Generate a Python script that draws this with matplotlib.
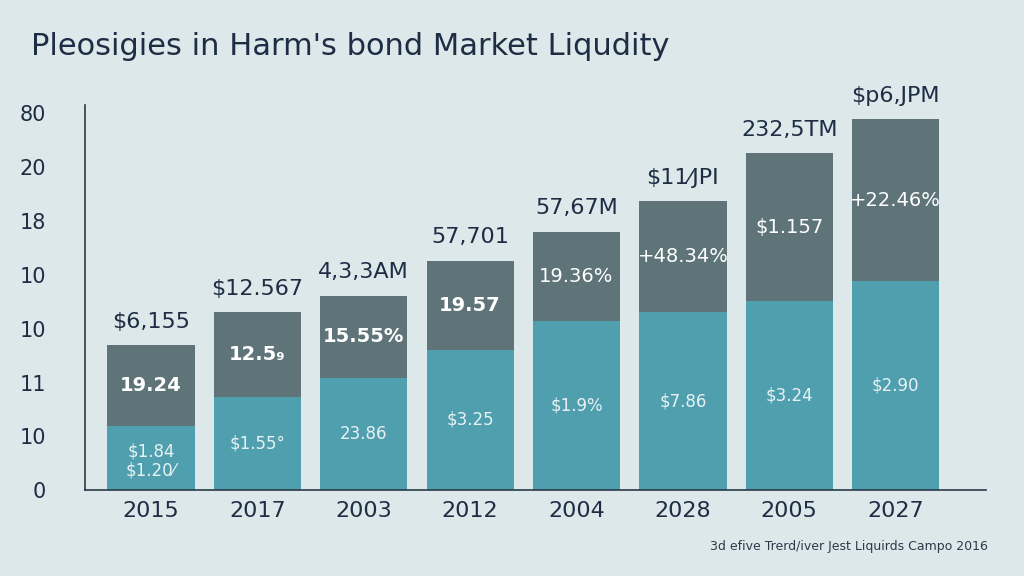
import matplotlib
matplotlib.use("Agg")
import matplotlib.pyplot as plt

years = ["2015", "2017", "2003", "2012", "2004", "2028", "2005", "2027"]
lower = [1.20, 1.74, 2.09, 2.61, 3.15, 3.31, 3.52, 3.89]
total = [2.69, 3.31, 3.61, 4.26, 4.80, 5.37, 6.26, 6.89]
upper = [t - l for t, l in zip(total, lower)]
top_labels = ["$6,155", "$12.567", "4,3,3AM", "57,701", "57,67M", "$11⁄JPI", "232,5TM", "$p6,JPM"]
upper_labels = ["19.24", "12.5₉", "15.55%", "19.57", "19.36%", "+48.34%", "$1.157", "+22.46%"]
lower_labels = ["$1.84\n$1.20⁄", "$1.55°", "23.86", "$3.25", "$1.9%", "$7.86", "$3.24", "$2.90"]
ytick_labels = ["0", "10", "11", "10", "10", "18", "20", "80"]

bg = "#dce8ea"
fig = plt.figure(figsize=(10.24, 5.76), dpi=100, facecolor=bg)
ax = fig.add_axes([0.083, 0.149, 0.88, 0.668])
ax.set_facecolor(bg)
x = list(range(len(years)))
ax.bar(x, lower, width=0.82, color="#4f9fae")
ax.bar(x, upper, bottom=lower, width=0.82, color="#5e7479")
for i in x:
    ax.text(i, total[i] + 0.25, top_labels[i], ha="center", va="bottom", fontsize=16, color="#1d2d44")
    ax.text(i, lower[i] + upper[i] * 0.5, upper_labels[i], ha="center", va="center", fontsize=14, color="white", fontweight="bold" if i < 4 else "normal")
    ax.text(i, lower[i] * 0.5 if i else lower[i] * 0.45, lower_labels[i], ha="center", va="center", fontsize=12, color="#e8f2f4", linespacing=1.1)
ax.set_xlim(-0.62, 7.85)
ax.set_ylim(0, 7.15)
ax.set_yticks(range(8))
ax.set_yticklabels(ytick_labels, fontsize=15, color="#1d2d44")
ax.set_xticks(x)
ax.set_xticklabels(years, fontsize=16, color="#1d2d44")
ax.tick_params(length=0, pad=8)
ax.tick_params(axis="y", pad=28)
for s in ["top", "right"]:
    ax.spines[s].set_visible(False)
for s in ["left", "bottom"]:
    ax.spines[s].set_color("#2a3a4a")
    ax.spines[s].set_linewidth(1.2)
fig.text(0.03, 0.92, "Pleosigies in Harm's bond Market Liqudity", fontsize=22, color="#1d2d44", va="center")
fig.text(0.965, 0.045, "3d efive Trerd/iver Jest Liquirds Campo 2016", fontsize=9, color="#2a3a4a", ha="right")
fig.savefig("out.png", dpi=100, facecolor=bg)
